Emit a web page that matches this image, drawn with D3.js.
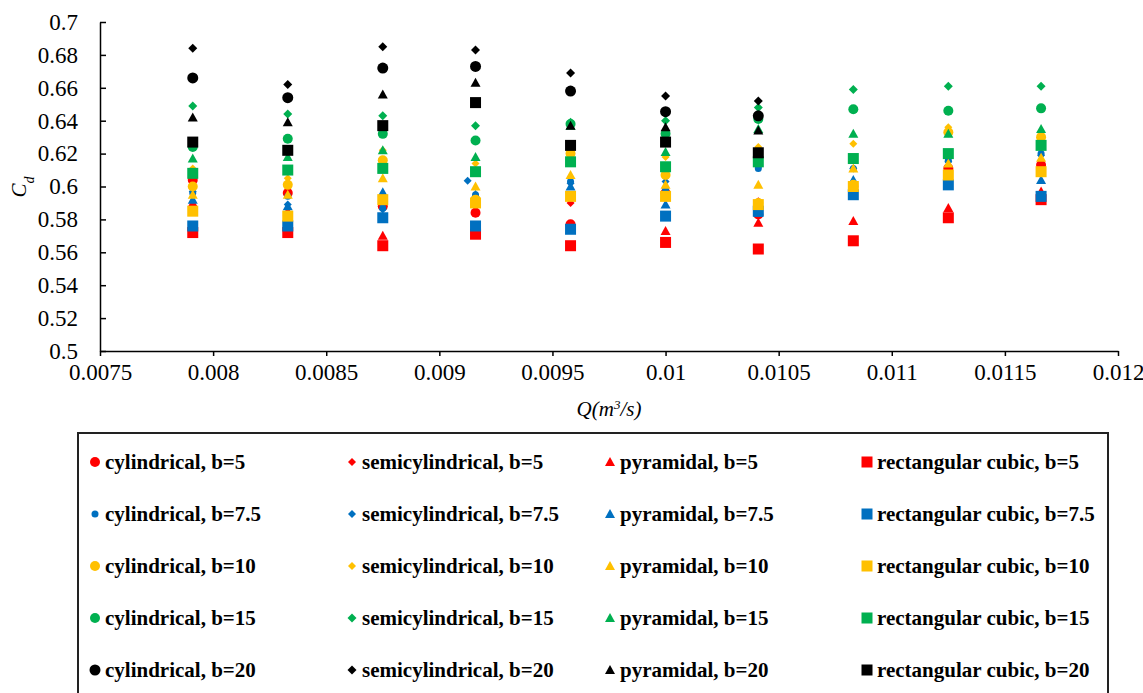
<!DOCTYPE html>
<html lang="en">
<head>
    <meta charset="UTF-8">
    <title>Cd vs Q scatter</title>
    <script src="https://d3js.org/d3.v7.min.js"></script>
    <style>
        body { margin: 0; background: #fff; }
        text { font-family: "Liberation Serif", "Times New Roman", serif; }
    </style>
</head>
<body>
    <div id="chart"></div>

    <script>
        // discharge values (m3/s)
        var q = [0.00791, 0.00833, 0.00875, 0.00916, 0.00958, 0.01, 0.01041, 0.01083, 0.01125, 0.01166];
        // the semicylindrical b=7.5 run has one point slightly shifted
        var qSemi75 = [0.00791, 0.00833, 0.00875, 0.009125, 0.00958, 0.01, 0.01041, 0.01083, 0.01125, 0.01166];

        var xTicks = [0.0075, 0.008, 0.0085, 0.009, 0.0095, 0.01, 0.0105, 0.011, 0.0115, 0.012];
        var yTicks = [0.5, 0.52, 0.54, 0.56, 0.58, 0.6, 0.62, 0.64, 0.66, 0.68, 0.7];

        var shapes = ["cylindrical", "semicylindrical", "pyramidal", "rectangular cubic"];
        var widths = ["5", "7.5", "10", "15", "20"];
        var colors = ["#FF0000", "#0070C0", "#FFC000", "#00B050", "#000000"];

        // Cd values, b = 5
        var cyl5  = [0.604, 0.596, 0.588, 0.584, 0.577, 0.596, 0.583, 0.600, 0.611, 0.613];
        var semi5 = [0.607, 0.602, 0.590, 0.588, 0.590, 0.597, 0.591, 0.601, 0.610, 0.612];
        var pyr5  = [0.590, 0.585, 0.570, 0.575, 0.574, 0.573, 0.578, 0.579, 0.587, 0.597];
        var rect5 = [0.572, 0.572, 0.564, 0.571, 0.564, 0.566, 0.562, 0.567, 0.581, 0.592];
        // b = 7.5
        var cyl75  = [0.596, 0.594, 0.587, 0.595, 0.603, 0.598, 0.611, 0.611, 0.616, 0.620];
        var semi75 = [0.597, 0.589, 0.586, 0.6035, 0.602, 0.603, 0.612, 0.611, 0.615, 0.619];
        var pyr75  = [0.592, 0.588, 0.5965, 0.595, 0.600, 0.589, 0.584, 0.604, 0.606, 0.604];
        var rect75 = [0.576, 0.576, 0.581, 0.576, 0.574, 0.582, 0.585, 0.595, 0.601, 0.594];
        // b = 10
        var cyl10  = [0.600, 0.601, 0.616, 0.592, 0.620, 0.607, 0.590, 0.601, 0.633, 0.630];
        var semi10 = [0.611, 0.605, 0.622, 0.614, 0.619, 0.618, 0.624, 0.626, 0.636, 0.631];
        var pyr10  = [0.595, 0.595, 0.605, 0.600, 0.607, 0.601, 0.601, 0.611, 0.614, 0.6175];
        var rect10 = [0.585, 0.582, 0.592, 0.590, 0.594, 0.594, 0.589, 0.600, 0.607, 0.609];
        // b = 15
        var cyl15  = [0.624, 0.629, 0.632, 0.628, 0.638, 0.632, 0.641, 0.647, 0.646, 0.6475];
        var semi15 = [0.649, 0.644, 0.643, 0.637, 0.639, 0.640, 0.648, 0.659, 0.661, 0.661];
        var pyr15  = [0.617, 0.618, 0.622, 0.618, 0.637, 0.621, 0.635, 0.632, 0.632, 0.635];
        var rect15 = [0.608, 0.610, 0.611, 0.609, 0.615, 0.612, 0.615, 0.617, 0.620, 0.625];
        // b = 20 (only the first seven discharges)
        var cyl20  = [0.666, 0.654, 0.672, 0.673, 0.658, 0.6455, 0.643, null, null, null];
        var semi20 = [0.684, 0.662, 0.685, 0.683, 0.669, 0.655, 0.652, null, null, null];
        var pyr20  = [0.642, 0.639, 0.656, 0.663, 0.637, 0.636, 0.634, null, null, null];
        var rect20 = [0.627, 0.622, 0.637, 0.651, 0.625, 0.627, 0.6205, null, null, null];

        var values = [
            [cyl5, semi5, pyr5, rect5],
            [cyl75, semi75, pyr75, rect75],
            [cyl10, semi10, pyr10, rect10],
            [cyl15, semi15, pyr15, rect15],
            [cyl20, semi20, pyr20, rect20]
        ];

        // marker sizes (px) per width group, by shape
        var circleSize = [10, 7, 10, 10, 11];
        var diamondSize = [8, 8, 8, 9, 9];

        // build series in Excel order (legend row-major)
        var series = [];
        widths.forEach(function(b, i) {
            shapes.forEach(function(s, j) {
                var xs = (i == 1 && j == 1) ? qSemi75 : q;
                var pts = [];
                values[i][j].forEach(function(v, k) {
                    if (v != null) pts.push({ q: xs[k], cd: v });
                });
                series.push({
                    name: s + ", b=" + b,
                    shape: j,
                    color: colors[i],
                    size: j == 0 ? circleSize[i] : (j == 1 ? diamondSize[i] : (j == 2 ? 10 : 11)),
                    points: pts
                });
            });
        });

        var w = 1143, h = 693;
        var svg = d3.select("#chart").append("svg")
            .attr("width", w)
            .attr("height", h);

        var xScale = d3.scaleLinear().domain([0.0075, 0.012]).range([100, 1118]);
        var yScale = d3.scaleLinear().domain([0.5, 0.7]).range([351, 22]);

        function marker(sel, shape, size, color) {
            var r = size / 2;
            if (shape == 0) {
                sel.append("circle").attr("r", r).attr("fill", color);
            } else if (shape == 1) {
                sel.append("path")
                    .attr("d", "M0," + (-r) + "L" + r + ",0L0," + r + "L" + (-r) + ",0Z")
                    .attr("fill", color);
            } else if (shape == 2) {
                sel.append("path")
                    .attr("d", "M0," + (-r) + "L" + r + "," + (r * 0.8) + "L" + (-r) + "," + (r * 0.8) + "Z")
                    .attr("fill", color);
            } else {
                sel.append("rect")
                    .attr("x", -r).attr("y", -r)
                    .attr("width", size).attr("height", size)
                    .attr("fill", color);
            }
        }

        // axes
        var xAxis = d3.axisBottom(xScale)
            .tickValues(xTicks)
            .tickFormat(function(d) { return String(d); })
            .tickSizeInner(5).tickSizeOuter(0).tickPadding(8);
        var gx = svg.append("g")
            .attr("transform", "translate(0," + 351 + ")")
            .call(xAxis);

        var yAxis = d3.axisLeft(yScale)
            .tickValues(yTicks)
            .tickFormat(function(d) { return String(d); })
            .tickSizeInner(-6).tickSizeOuter(0).tickPadding(22);
        var gy = svg.append("g")
            .attr("transform", "translate(" + 100 + ",0)")
            .call(yAxis);

        [gx, gy].forEach(function(g) {
            g.selectAll("path, line").attr("stroke", "#000").attr("stroke-width", 1.5);
            g.selectAll("text").attr("fill", "#000")
                .style("font-family", "'Liberation Serif', serif")
                .style("font-size", "23px");
        });

        // points
        series.forEach(function(s) {
            svg.append("g").selectAll("g")
                .data(s.points)
                .enter()
                .append("g")
                .attr("transform", function(d) {
                    return "translate(" + xScale(d.q) + "," + yScale(d.cd) + ")";
                })
                .each(function() { marker(d3.select(this), s.shape, s.size, s.color); });
        });

        // axis titles
        svg.append("text")
            .attr("x", 609).attr("y", 416)
            .attr("text-anchor", "middle")
            .style("font-size", "21px")
            .style("font-style", "italic")
            .html("Q(m<tspan baseline-shift='super' font-size='13px'>3</tspan>/s)");

        svg.append("text")
            .attr("transform", "translate(26,187) rotate(-90)")
            .attr("text-anchor", "middle")
            .style("font-size", "21px")
            .style("font-style", "italic")
            .html("C<tspan baseline-shift='sub' font-size='14px'>d</tspan>");

        // legend
        svg.append("rect")
            .attr("x", 78).attr("y", 433)
            .attr("width", 1030).attr("height", 280)
            .attr("fill", "none")
            .attr("stroke", "#222")
            .attr("stroke-width", 2);

        var legX = [95, 352, 610, 867];
        series.forEach(function(s, i) {
            var col = i % 4, row = Math.floor(i / 4);
            var g = svg.append("g")
                .attr("transform", "translate(" + legX[col] + "," + (462 + row * 52) + ")");
            marker(g, s.shape, s.size, s.color);
            g.append("text")
                .attr("x", 10).attr("y", 7)
                .style("font-size", "21px")
                .style("font-weight", "bold")
                .text(s.name);
        });
    </script>
</body>
</html>
